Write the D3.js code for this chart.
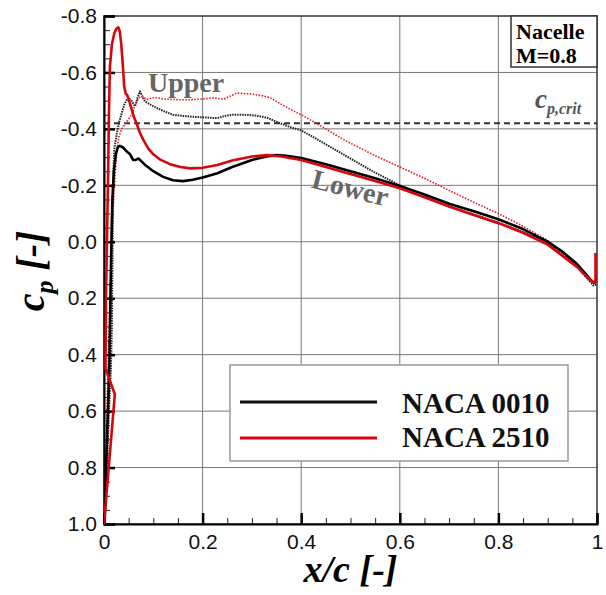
<!DOCTYPE html>
<html>
<head>
<meta charset="utf-8">
<script src="https://cdn.jsdelivr.net/npm/d3@7"></script>
<style>
body{margin:0;background:#fff;}
text{font-family:"Liberation Sans",Arial,sans-serif;}
.serif{font-family:"Liberation Serif","Times New Roman",serif;font-weight:bold;}
</style>
</head>
<body>
<div id="content"></div>
<script>
// data: [x/c, cp]
var naca0010Lower=[[0.001,1.0],[0.004,0.8],[0.008,0.6],[0.011,0.42],[0.013,0.2],[0.015,0.0],[0.017,-0.15],[0.02,-0.25],[0.024,-0.31],[0.028,-0.335],[0.032,-0.34],[0.038,-0.335],[0.046,-0.32],[0.053,-0.31],[0.059,-0.29],[0.064,-0.29],[0.07,-0.295],[0.076,-0.285],[0.085,-0.27],[0.1,-0.25],[0.12,-0.23],[0.14,-0.218],[0.16,-0.215],[0.18,-0.22],[0.2,-0.228],[0.23,-0.243],[0.26,-0.265],[0.3,-0.29],[0.33,-0.302],[0.35,-0.307],[0.37,-0.305],[0.4,-0.297],[0.45,-0.275],[0.5,-0.25],[0.55,-0.225],[0.6,-0.198],[0.65,-0.168],[0.7,-0.135],[0.75,-0.108],[0.8,-0.08],[0.85,-0.045],[0.9,0.0],[0.93,0.035],[0.96,0.08],[0.98,0.12],[0.99,0.14],[0.995,0.145],[1.0,0.13]];
var naca0010Upper=[[0.002,1.0],[0.006,0.8],[0.01,0.6],[0.014,0.45],[0.016,0.3],[0.017,0.1],[0.018,-0.1],[0.019,-0.25],[0.021,-0.33],[0.026,-0.385],[0.031,-0.425],[0.036,-0.456],[0.042,-0.49],[0.049,-0.51],[0.056,-0.5],[0.063,-0.48],[0.068,-0.51],[0.073,-0.533],[0.078,-0.515],[0.083,-0.497],[0.095,-0.485],[0.107,-0.474],[0.125,-0.46],[0.14,-0.45],[0.16,-0.446],[0.18,-0.443],[0.21,-0.44],[0.23,-0.438],[0.245,-0.446],[0.26,-0.45],[0.285,-0.45],[0.31,-0.447],[0.33,-0.44],[0.357,-0.42],[0.38,-0.405],[0.4,-0.395],[0.45,-0.345],[0.5,-0.295],[0.55,-0.245],[0.6,-0.2],[0.65,-0.162],[0.7,-0.125],[0.75,-0.097],[0.8,-0.068],[0.85,-0.035],[0.9,0.005],[0.93,0.045],[0.96,0.09],[0.98,0.13],[0.993,0.155],[1.0,0.15]];
var naca2510Lower=[[0.0,1.0],[0.022,0.54],[0.003,0.45],[0.004,0.2],[0.006,0.0],[0.008,-0.2],[0.01,-0.45],[0.012,-0.62],[0.016,-0.7],[0.021,-0.74],[0.025,-0.755],[0.029,-0.76],[0.032,-0.745],[0.035,-0.7],[0.038,-0.63],[0.041,-0.55],[0.044,-0.525],[0.047,-0.52],[0.051,-0.5],[0.056,-0.47],[0.061,-0.44],[0.066,-0.42],[0.072,-0.39],[0.08,-0.36],[0.09,-0.33],[0.1,-0.31],[0.115,-0.29],[0.134,-0.275],[0.155,-0.265],[0.175,-0.26],[0.2,-0.262],[0.23,-0.272],[0.26,-0.288],[0.3,-0.302],[0.33,-0.307],[0.36,-0.302],[0.4,-0.29],[0.45,-0.265],[0.5,-0.24],[0.55,-0.215],[0.6,-0.19],[0.65,-0.158],[0.7,-0.125],[0.75,-0.095],[0.8,-0.066],[0.85,-0.032],[0.9,0.01],[0.93,0.05],[0.96,0.09],[0.98,0.125],[0.993,0.145],[0.997,0.14],[0.997,0.04]];
var naca2510Upper=[[0.0,1.0],[0.003,0.8],[0.006,0.6],[0.009,0.4],[0.012,0.2],[0.015,0.03],[0.018,-0.1],[0.022,-0.22],[0.026,-0.32],[0.03,-0.37],[0.036,-0.4],[0.046,-0.425],[0.052,-0.44],[0.056,-0.45],[0.062,-0.48],[0.07,-0.51],[0.076,-0.515],[0.087,-0.504],[0.103,-0.512],[0.12,-0.506],[0.14,-0.504],[0.17,-0.503],[0.195,-0.505],[0.222,-0.51],[0.242,-0.505],[0.255,-0.515],[0.269,-0.527],[0.296,-0.524],[0.32,-0.518],[0.337,-0.51],[0.357,-0.49],[0.377,-0.47],[0.4,-0.45],[0.44,-0.41],[0.49,-0.358],[0.55,-0.305],[0.6,-0.265],[0.65,-0.225],[0.7,-0.182],[0.75,-0.14],[0.8,-0.1],[0.85,-0.055],[0.9,-0.005],[0.93,0.04],[0.96,0.085],[0.98,0.125],[0.993,0.145],[1.0,0.14]];
var cpCrit=-0.42;
var xTicks=[0,0.2,0.4,0.6,0.8,1];
var xTickLabels=["0","0.2","0.4","0.6","0.8","1"];
var yTicks=[-0.8,-0.6,-0.4,-0.2,0,0.2,0.4,0.6,0.8,1.0];
var yTickLabels=["-0.8","-0.6","-0.4","-0.2","0.0","0.2","0.4","0.6","0.8","1.0"];
var legendNames=["NACA 0010","NACA 2510"];

//layout
var width=606, height=595;
var margin={'left':104,'top':16,'right':9,'bottom':71};
var plot_w=width-margin.left-margin.right;
var plot_h=height-margin.top-margin.bottom;

var x=d3.scaleLinear().domain([0,1]).range([0,plot_w]);
var y=d3.scaleLinear().domain([-0.8,1.0]).range([0,plot_h]);

var svg=d3.select("#content").append("svg")
	.attr("width",width)
	.attr("height",height);
var g=svg.append("g").attr("transform","translate("+margin.left+","+margin.top+")");

g.append("clipPath").attr("id","clip")
	.append("rect").attr("width",plot_w).attr("height",plot_h);

// grid
g.selectAll(".vgrid").data(xTicks.slice(1,-1)).enter().append("line")
	.attr("x1",function(d){return x(d);}).attr("x2",function(d){return x(d);})
	.attr("y1",0).attr("y2",plot_h)
	.attr("stroke","#777").attr("stroke-width",1);
g.selectAll(".hgrid").data(yTicks.slice(1,-1)).enter().append("line")
	.attr("y1",function(d){return y(d);}).attr("y2",function(d){return y(d);})
	.attr("x1",0).attr("x2",plot_w)
	.attr("stroke","#777").attr("stroke-width",1);

// frame
g.append("rect").attr("width",plot_w).attr("height",plot_h)
	.attr("fill","none").attr("stroke","#333").attr("stroke-width",1.5);

// minor + major ticks (inside)
var xMinor=d3.range(0,1.0001,0.05);
var yMinor=d3.range(-0.8,1.0001,0.05);
g.append("g").attr("transform","translate(0,"+plot_h+")")
	.call(d3.axisBottom(x).tickValues(xMinor).tickSize(-6).tickFormat(""))
	.call(function(a){a.select(".domain").remove();a.selectAll("line").attr("stroke","#222");});
g.append("g")
	.call(d3.axisLeft(y).tickValues(yMinor).tickSize(-6).tickFormat(""))
	.call(function(a){a.select(".domain").remove();a.selectAll("line").attr("stroke","#222");});

var xAxis=g.append("g").attr("transform","translate(0,"+plot_h+")")
	.call(d3.axisBottom(x).tickValues(xTicks).tickSize(-11).tickPadding(10)
		.tickFormat(function(d,i){return xTickLabels[i];}));
xAxis.selectAll("line").attr("stroke","#000").attr("stroke-width",2.5);
xAxis.select(".domain").attr("stroke","#000").attr("stroke-width",2);
xAxis.selectAll("text").attr("font-size",21).attr("fill","#111")
	.style("font-family","'Liberation Sans',Arial,sans-serif");

var yAxis=g.append("g")
	.call(d3.axisLeft(y).tickValues(yTicks).tickSize(-11).tickPadding(7)
		.tickFormat(function(d,i){return yTickLabels[i];}));
yAxis.selectAll("line").attr("stroke","#000").attr("stroke-width",2.5);
yAxis.select(".domain").attr("stroke","#000").attr("stroke-width",2);
yAxis.selectAll("text").attr("font-size",21).attr("fill","#111")
	.style("font-family","'Liberation Sans',Arial,sans-serif");

// critical cp
g.append("line")
	.attr("x1",x(0)).attr("x2",x(1)).attr("y1",y(cpCrit)).attr("y2",y(cpCrit))
	.attr("stroke","#333").attr("stroke-width",1.8).attr("stroke-dasharray","6,4");

// curves
var line=d3.line().x(function(d){return x(d[0]);}).y(function(d){return y(d[1]);});
var curves=g.append("g").attr("clip-path","url(#clip)");
var series=[
	{data:naca0010Upper,color:"#222",w:2,dash:"1.5,1"},
	{data:naca2510Upper,color:"#e8141c",w:1.6,dash:"1.5,1.5"},
	{data:naca0010Lower,color:"#000",w:2.6,dash:null},
	{data:naca2510Lower,color:"#d8060c",w:2.6,dash:null}
];
curves.selectAll("path").data(series).enter().append("path")
	.attr("d",function(d){return line(d.data);})
	.attr("fill","none")
	.attr("stroke",function(d){return d.color;})
	.attr("stroke-width",function(d){return d.w;})
	.attr("stroke-dasharray",function(d){return d.dash;})
	.attr("stroke-linejoin","round");

// annotations
g.append("text").attr("class","serif").attr("x",44).attr("y",76)
	.attr("font-size",28).attr("fill","#666").text("Upper");
g.append("text").attr("class","serif").attr("transform","translate(244,181) rotate(14)")
	.attr("font-size",28).attr("fill","#666").attr("text-anchor","middle").text("Lower");
var crit=g.append("text").attr("class","serif").attr("x",431).attr("y",92)
	.attr("font-size",27).attr("fill","#555").attr("font-style","italic");
crit.append("tspan").text("c");
crit.append("tspan").attr("font-size",16).attr("dy",6).text("p,crit");

// nacelle box
g.append("rect").attr("x",407).attr("y",0).attr("width",plot_w-407).attr("height",51)
	.attr("fill","#fff").attr("stroke","#333").attr("stroke-width",1.5);
g.append("text").attr("class","serif").attr("x",412).attr("y",23).attr("font-size",22).text("Nacelle");
g.append("text").attr("class","serif").attr("x",412).attr("y",47).attr("font-size",22).text("M=0.8");

// legend
var lg=g.append("g").attr("transform","translate(126,349)");
lg.append("rect").attr("width",338).attr("height",96)
	.attr("fill","#fff").attr("stroke","#999").attr("stroke-width",1.5);
lg.selectAll(".lline").data(legendNames).enter().append("line")
	.attr("x1",10).attr("x2",147)
	.attr("y1",function(d,i){return 37+i*36;}).attr("y2",function(d,i){return 37+i*36;})
	.attr("stroke",function(d,i){return i==0?"#111":"#d8060c";}).attr("stroke-width",3);
lg.selectAll(".ltext").data(legendNames).enter().append("text")
	.attr("class","serif").attr("x",172)
	.attr("y",function(d,i){return 48+i*34;})
	.attr("font-size",29).attr("fill","#111").text(function(d){return d;});

// axis titles
svg.append("text").attr("class","serif").attr("font-style","italic")
	.attr("x",margin.left+plot_w/2).attr("y",582).attr("text-anchor","middle")
	.attr("font-size",38).text("x/c [-]");
var yt=svg.append("text").attr("class","serif").attr("font-style","italic")
	.attr("transform","translate(44,271) rotate(-90)").attr("text-anchor","middle")
	.attr("font-size",40);
yt.append("tspan").text("c");
yt.append("tspan").attr("font-size",26).attr("dy",9).text("p");
yt.append("tspan").attr("dy",-9).text(" [-]");
</script>
</body>
</html>
